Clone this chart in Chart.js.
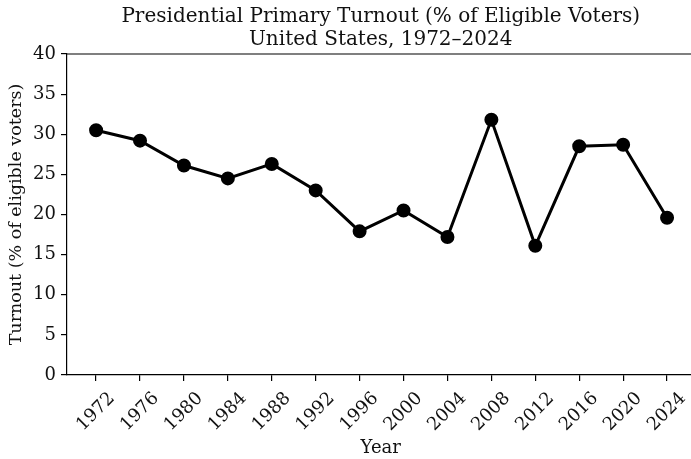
<!DOCTYPE html>
<html>
<head>
<meta charset="utf-8">
<script src="https://cdn.jsdelivr.net/npm/chart.js@4.4.1/dist/chart.umd.min.js"></script>
<style>
  html, body { margin: 0; padding: 0; background: #fff; overflow: hidden; }
  #wrap { width: 703px; height: 459px; }
</style>
</head>
<body>
<div id="wrap"><canvas id="turnoutChart" width="703" height="459"></canvas></div>
<script>
'use strict';

const TITLE_LINES = ['Presidential Primary Turnout (% of Eligible Voters)', 'United States, 1972\u20132024'];
const YEARS   = [1972, 1976, 1980, 1984, 1988, 1992, 1996, 2000, 2004, 2008, 2012, 2016, 2020, 2024];
const TURNOUT = [30.5, 29.2, 26.1, 24.5, 26.3, 23.0, 17.9, 20.5, 17.2, 31.8, 16.1, 28.5, 28.7, 19.6];
const Y_TICKS = [0, 5, 10, 15, 20, 25, 30, 35, 40];

const FONT = 'DejaVu Serif';

// top spine of the axes box (the right one falls off the picture)
const topSpine = {
  id: 'topSpine',
  afterDraw(chart) {
    const { ctx, chartArea: a } = chart;
    ctx.save();
    ctx.strokeStyle = '#000';
    ctx.lineWidth = 1.2;
    ctx.beginPath();
    ctx.moveTo(a.left, a.top);
    ctx.lineTo(chart.width, a.top);
    ctx.stroke();
    ctx.restore();
  },
};

const ctx = document.getElementById('turnoutChart').getContext('2d');
new Chart(ctx, {
  type: 'line',
  data: {
    datasets: [{
      data: YEARS.map((y, i) => ({ x: y, y: TURNOUT[i] })),
      borderColor: '#000',
      backgroundColor: '#000',
      borderWidth: 3,
      pointRadius: 5.5,
      pointHoverRadius: 5.5,
      tension: 0,
    }],
  },
  options: {
    responsive: false,
    animation: false,
    devicePixelRatio: 1,
    layout: { padding: 0 },
    plugins: {
      legend: { display: false },
      tooltip: { enabled: false },
      title: {
        display: true,
        fullSize: false,
        text: TITLE_LINES,
        color: '#111',
        font: { family: FONT, size: 20, weight: 'normal', lineHeight: 1.15 },
        padding: { top: 5, bottom: 3 },
      },
    },
    scales: {
      x: {
        type: 'linear',
        min: 1969.35,
        max: 2026.5,
        afterBuildTicks: (s) => { s.ticks = YEARS.map((v) => ({ value: v })); },
        afterFit: (s) => { s.height = 84; s.paddingLeft = 0; s.paddingRight = 0; },
        ticks: {
          autoSkip: false,
          minRotation: 45,
          maxRotation: 45,
          padding: 7,
          labelOffset: 16,
          color: '#111',
          font: { family: FONT, size: 18 },
          callback: (v) => String(v),
        },
        grid: { drawOnChartArea: false, drawTicks: true, tickLength: 6, color: '#000', lineWidth: 1.2 },
        border: { display: true, color: '#000', width: 1.2 },
        title: {
          display: true,
          text: 'Year',
          color: '#111',
          font: { family: FONT, size: 18 },
          padding: { top: 0, bottom: 0 },
        },
      },
      y: {
        min: 0,
        max: 40,
        afterBuildTicks: (s) => { s.ticks = Y_TICKS.map((v) => ({ value: v })); },
        afterFit: (s) => { s.width = 67; s.paddingTop = 0; s.paddingBottom = 0; },
        ticks: {
          padding: 5,
          color: '#111',
          font: { family: FONT, size: 18 },
        },
        grid: { drawOnChartArea: false, drawTicks: true, tickLength: 6, color: '#000', lineWidth: 1.2 },
        border: { display: true, color: '#000', width: 1.2 },
        title: {
          display: true,
          text: 'Turnout (% of eligible voters)',
          color: '#111',
          font: { family: FONT, size: 17.5 },
          padding: { top: 6, bottom: 2 },
        },
      },
    },
  },
  plugins: [topSpine],
});
</script>
</body>
</html>
